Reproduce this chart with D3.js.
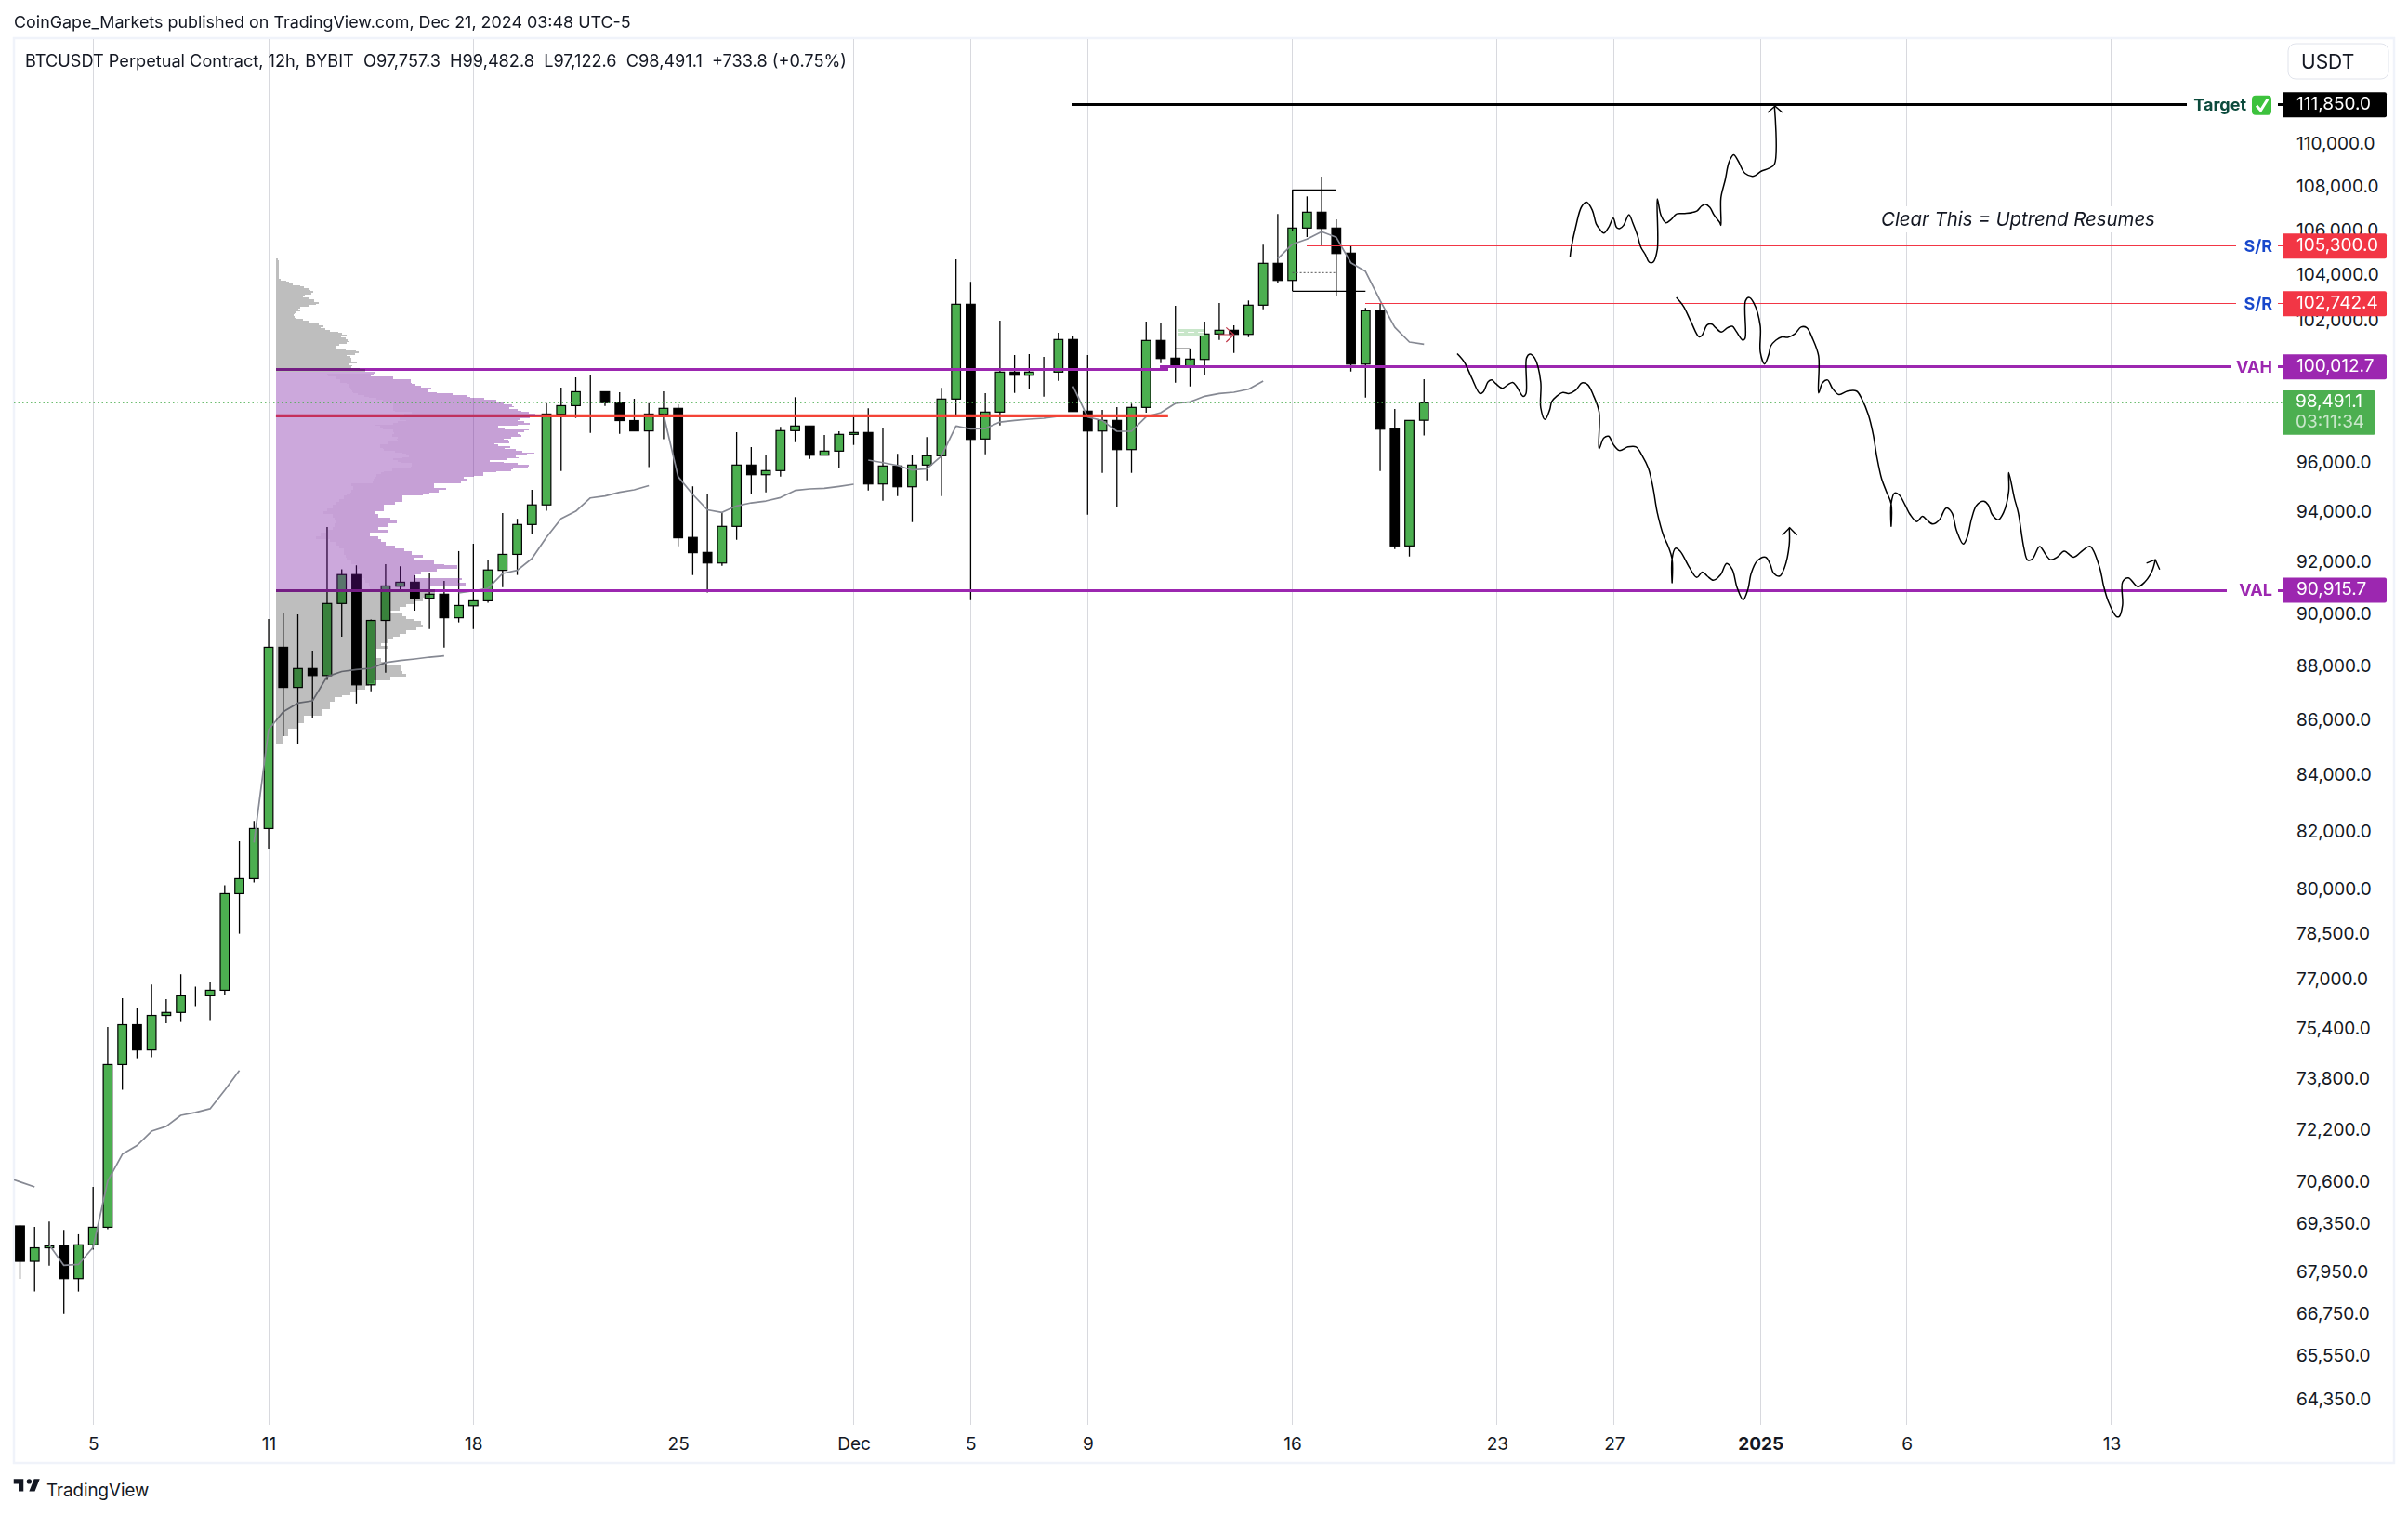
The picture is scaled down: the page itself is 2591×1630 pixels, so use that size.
<!DOCTYPE html>
<html><head><meta charset="utf-8">
<script src="https://cdn.jsdelivr.net/npm/d3@7/dist/d3.min.js"></script>
<style>html,body{margin:0;background:#fff}svg{display:block}text{font-family:Inter,"Noto Sans",sans-serif}</style>
</head><body><svg id="c" width="2591" height="1630"></svg>
<script>
// ---- candles, one per 12h bar (index 0 = 2 Nov 2024 12:00)
const opens=[69304,68266,68660,68718,67762,68748,69265,74246,75521,74713,75821,75918,76459,76459,76641,79870,80379,82120,88727,87219,
87924,87663,90401,91523,87316,89750,91070,91226,90605,90760,89853,90311,90505,91690,92318,93502,94288,98008,98370,98957,
98957,98495,97744,97314,98015,98257,92988,92395,91978,93428,95907,95512,95679,97326,97519,96311,96480,97171,97248,95134,
95869,95021,95907,96288,98648,102722,96979,98101,99789,99655,99789,99789,101185,98140,97310,97751,96541,98296,101145,100385,
100027,100329,101426,101587,101410,102682,104532,103771,106120,106838,106120,104989,100130,102437,97403,92652,97757.3];
const highs=[69331,69276,69433,69188,69059,70468,75446,76380,76068,76827,76350,77166,76763,76897,80153,81678,82388,89804,90053,89982,
88600,93402,91731,91887,89789,91931,91847,91494,91603,91277,92447,92737,92114,93959,93729,94896,98479,99130,99564,99686,
98957,98934,98659,98479,98973,98425,95039,94746,93971,97260,96644,96300,97480,98726,97519,97144,97299,97957,98257,97441,
96365,96338,97056,99118,104710,103705,98894,102003,100517,100557,100437,101479,101318,100517,98191,98308,98452,101963,101882,102653,
100796,101963,102775,101801,102886,105365,106753,107861,107561,108474,106512,105294,102559,102775,98230,97751,99482.8];
const lows=[67754,67389,68137,66750,67389,68603,69207,73452,74447,74479,75566,75608,76123,75671,76480,78513,80245,81422,85424,85129,
86087,87503,89129,86625,87080,87774,90951,90125,89420,88713,89675,89420,90426,91031,91509,93121,94049,95660,97856,97233,
98354,97190,97314,95823,96971,92641,91505,90825,91869,92895,94719,94795,95436,96848,96159,96311,95778,96733,94870,94457,
94644,93598,95285,94644,97969,90530,96349,97542,98906,99063,98749,99418,98124,93896,95588,94195,95588,98074,100170,99339,
99181,99655,101169,100608,101289,102502,103677,103307,105712,105323,103074,99813,98710,95664,92527,92234,97122.6];
const closes=[68266,68660,68718,67762,68748,69265,74246,75521,74713,75821,75918,76459,76459,76641,79870,80379,82120,88727,87219,87924,
87663,90401,91523,87316,89750,91081,91226,90591,90760,89853,90325,90505,91705,92318,93502,94288,98019,98370,98957,98957,
98495,97744,97314,98019,98257,92973,92384,91978,93428,95907,95512,95679,97326,97519,96311,96480,97171,97248,95134,95869,
95021,95907,96288,98648,102722,96963,98101,99789,99655,99789,99789,101185,98124,97310,97751,96541,98296,101145,100369,100027,
100345,101426,101587,101410,102682,104532,103771,106120,106838,106103,104972,100130,102437,97387,92652,97751,98491.1];
// ---- anchored average line: start bar + values
const avgStarts=[-1,2,16,30,44,58,72,86];
const avgValues=[[70768,70620,70468],
[68748,68147,68174,68674,70645,71460,71724,72166,72315,72655,72747,72860,73440,74058],
[81633,85661,86320,86639,86722,87625,87813,87886,87935,88148,88225,88284,88354,88400],
[90811,90890,90987,91567,91690,92150,92999,93736,94034,94569,94648,94798,94896,95066],
[98008,95429,94708,94090,93986,94247,94370,94445,94584,94870,94934,94960,95036,95122],
[96109,96006,95892,95702,95755,96273,97519,97403,97414,97685,97751,97802,97841,97918],
[99181,97891,97751,97299,97299,97907,98074,98464,98530,98765,98883,98934,99063,99406],
[104739,105390,105616,105952,105700,104557,104171,102886,101720,101077,100984]];
// ---- hand-drawn projections (bar index / price)
const path1X=[105.99,106.05,106.38,106.77,107.12,107.51,107.77,108.0,108.29,108.62,108.94,109.17,109.39,109.65,110.01,110.27,110.59,110.82,111.14,111.40,111.66,111.95,111.95,112.21,112.54,112.86,113.28,113.83,114.65,114.97,115.23,115.55,115.81,116.23,116.30,116.30,116.59,116.85,117.17,117.49,117.95,118.54,119.05,119.57,119.96,119.96];
const path1Y=[104833,105152,106195,107086,107297,106923,106308,106082,105889,106147,106567,106147,106098,106244,106729,106357,105793,105264,104913,104579,104579,105152,107444,106680,106357,106486,106761,106777,106891,107118,107200,107053,106729,106357,106244,107493,108313,109138,109487,109188,108626,108494,108725,108857,109055,111772];
const path2X=[98.27,98.76,99.25,99.83,100.06,100.38,100.64,100.90,101.35,101.74,102.07,102.33,102.78,102.97,103.01,103.23,103.56,103.98,103.98,104.27,104.60,104.73,105.08,105.50,105.89,106.38,106.80,107.19,107.58,107.97,107.97,108.29,108.62,108.94,109.36,109.94,110.50,110.92,111.34,111.66,111.95,112.38,112.70,112.96,112.96,112.96,113.19,113.51,114.16,114.65,115.03,115.36,115.78,116.27,116.69,117.08,117.40,117.82,118.15,118.37,118.79,119.35,119.67,119.90,120.32,120.64,120.97,120.97];
const path2Y=[100576,100210,99558,98879,98955,99376,99452,99301,99105,99256,99346,99180,98759,98879,100393,100560,100393,99376,98281,97789,98206,98535,
98774,98925,98879,99030,99331,99256,98804,98102,96579,97020,97094,96755,96506,96652,96652,96286,95776,94979,93975,93052,92629,92138,
91205,92138,92558,92446,91789,91413,91621,91468,91302,91510,91956,91719,91025,90542,90956,91580,92068,92208,91928,91580,91468,91789,
92699,93377];
const path3X=[113.25,113.74,114.22,114.81,115.03,115.36,115.68,115.94,116.33,116.75,117.08,117.34,117.79,117.95,117.98,118.21,118.54,118.99,118.99,119.28,119.57,119.70,120.06,120.48,120.87,121.36,121.78,122.17,122.56,122.98,122.98,123.24,123.59,123.92,124.37,124.96,125.57,125.93,126.38,126.71,126.97,127.29,127.61,127.94,127.94,127.94,128.16,128.49,128.91,129.23,129.69,130.08,130.37,130.79,131.24,131.70,132.09,132.41,132.87,133.13,133.45,133.77,134.26,134.58,134.84,135.26,135.62,135.98,135.98,136.37,136.63,137.02,137.27,137.60,138.09,138.54,138.83,139.29,139.77,140.42,141.07,141.55,142.20,142.46,142.79,143.34,143.53,143.76,143.76,144.15,144.80,145.28,145.77,146.0];
const path3Y=[103018,102628,102006,101296,101388,101821,101851,101697,101512,101697,101759,101543,101158,101235,102862,103018,102784,101774,100652,100134,100545,100897,
101158,101296,101281,101435,101728,101697,101235,100469,98909,99331,99452,99105,98834,98985,98985,98654,97983,97168,96213,95340,94835,94332,
93434,94332,94763,94691,94261,93903,93619,93832,93690,93519,93690,94160,93975,93264,92727,92981,93761,94261,94433,94289,93903,93690,
93975,94835,95601,94547,93975,92558,92096,92138,92629,92278,92110,92208,92446,92208,92488,92629,91789,91094,90474,89899,89899,90336,
91233,91399,91053,91233,91649,92110];
const headX=[[119.5,120.0,120.5],[120.5,121.0,121.5],[145.4,146.0,146.3]];
const headY=[[111483,111789,111483],[93080,93377,93080],[91970,92110,91719]];
// ---- volume profile rows: top price of each row, total volume, up volume (0 = outside value area)
const rowPrice=[104752,104669,103841,103773,103704,103635,103567,103498,103430,103362,103293,103225,103157,103089,103020,102952,102884,102816,102748,102680,102612,102545,
102477,102409,102341,102274,102206,102138,102071,102003,101936,101869,101801,101734,101667,101599,101532,101465,101398,101331,101264,101197,101130,101063,
100996,100930,100796,100730,100663,100596,100530,100463,100397,100331,100238,100172,100092,100026,99960,99907,99814,99735,99669,99603,99538,99472,
99406,99340,99275,99209,99143,99078,99012,98947,98881,98816,98751,98685,98620,98555,98490,98425,98360,98295,98230,98165,98100,98035,
97970,97905,97841,97776,97711,97647,97582,97518,97453,97389,97324,97260,97196,97131,97067,97003,96939,96875,96811,96747,96683,96619,
96555,96491,96427,96364,96300,96236,96172,96109,96045,95982,95918,95855,95792,95728,95665,95602,95539,95475,95412,95349,95286,95223,
95160,95034,94972,94909,94783,94721,94658,94533,94408,94283,94158,94034,93910,93786,93662,93538,93414,93291,93167,93044,92921,92798,
92676,92553,92431,92309,92187,92065,91943,91882,91761,91640,91518,91397,91313,91216,91096,90939,90855,90735,90615,90495,90376,90256,
90137,90018,89899,89815,89720,89602,89483,89365,89247,89129,89011,88894,88776,88659,88542,88424,88308,88191,88074,87958,87842,87725,
87610,87494,87378,87263,87147,87032,86918,86859,86687,86413,86173,85900,85695,85424,85153,85119];
const rowVol=[6,9,15,34,41,54,79,91,107,111,119,114,94,86,107,122,122,137,129,106,79,72,77,64,59,57,59,64,87,106,119,139,152,144,159,174,201,214,227,209,224,231,237,229,204,192,224,259,267,254,229,241,242,244,261,237,246,244,269,289,
321,314,307,377,377,434,434,439,449,469,501,492,492,519,569,614,627,672,711,711,734,762,768,754,779,792,817,837,859,819,786,779,801,819,779,717,739,816,801,779,787,791,759,734,749,754,704,717,757,737,774,794,834,809,774,782,744,691,736,779,816,814,764,759,711,669,669,639,606,619,604,597,
509,509,549,524,494,474,409,409,384,349,349,319,329,369,389,359,329,364,304,329,339,354,384,414,439,474,444,509,544,584,519,469,449,599,589,611,499,
514,514,499,474,449,419,399,369,409,419,444,469,474,454,419,399,379,364,339,364,324,324,324,339,351,404,404,409,419,369,314,299,289,259,239,
213,189,174,149,89,69,39,24,3,0];
const rowUp=[...Array(60).fill(0),
314,164,169,194,194,207,207,229,234,237,239,244,247,249,264,284,299,324,344,364,379,379,379,379,377,384,437,414,409,399,399,419,394,379,319,337,344,379,379,381,374,374,394,389,394,364,359,336,336,344,349,384,409,419,429,409,379,394,404,439,439,434,374,374,347,339,324,324,321,314,317,312,
244,249,249,244,239,229,219,204,194,184,164,154,184,189,194,189,184,169,144,129,174,194,204,219,219,224,229,244,259,264,269,274,279,284,289,299,304,
...Array(45).fill(0)];
// ---- levels
const levelPrice=[111850,105300,102742.4,100012.7,90915.7];
const levelLabel=["Target","S/R","S/R","VAH","VAL"];
const levelFrom=[71.93,87.98,92,77.94,17.5];
const levelTo=[148.15,151.5,151.5,151.2,150.9];
const levelLineColor=["#000000","#f23645","#f23645","#9c27b0","#9c27b0"];
const levelBoxColor=["#000000","#f23645","#f23645","#9c27b0","#9c27b0"];
const levelTextColor=["#0b4a3c","#1848cc","#1848cc","#9c27b0","#9c27b0"];
const levelWidth=[3,1,1,3,3];
const pocPrice=97945, profVAH=99883, profEnd=78.5;
const lastPrice=98491.1;
// ---- axes
const priceTicks=[110000,108000,106000,104000,102000,100000,98000,96000,94000,92000,90000,88000,86000,84000,82000,80000,78500,77000,75400,73800,72200,70600,69350,67950,66750,65550,64350];
const timeTicks=[5,17,31,45,57,65,73,87,101,109,119,129,143];
const timeLabels=["5","11","18","25","Dec","5","9","16","23","27","2025","6","13"];

const x=d3.scaleLinear().domain([0,100]).range([21.5,21.5+1573.7]);
const y=d3.scaleLog().domain([64350,111850]).range([1505.9,112.8]);
const vol=d3.scaleLinear().domain([0,900]).range([0,300]);
const svg=d3.select("#c");
const defs=svg.append("defs");
defs.append("clipPath").attr("id","pane").append("rect").attr("x",15).attr("y",41).attr("width",2441).attr("height",1492);

svg.append("rect").attr("x",15).attr("y",41).attr("width",2561).attr("height",1533).attr("fill","none").attr("stroke","#f0f3fa").attr("stroke-width",2.5);
// grid
svg.append("g").selectAll("line").data(timeTicks).join("line")
  .attr("x1",d=>Math.floor(x(d))+.5).attr("x2",d=>Math.floor(x(d))+.5).attr("y1",42).attr("y2",1533)
  .attr("stroke","#d8d9de").attr("stroke-width",1);
// text knockout
const clearX=2024, clearW=296;
svg.append("rect").attr("x",clearX-4).attr("y",222).attr("width",clearW+8).attr("height",28).attr("fill","#fff");

const pane=svg.append("g").attr("clip-path","url(#pane)");
// candles
const bars=opens.map((o,i)=>({i,o,h:highs[i],l:lows[i],c:closes[i]}));
const cg=pane.append("g");
cg.selectAll("line").data(bars).join("line")
  .attr("x1",d=>x(d.i)).attr("x2",d=>x(d.i)).attr("y1",d=>y(d.h)).attr("y2",d=>y(d.l))
  .attr("stroke","#000").attr("stroke-width",1.3);
cg.selectAll("rect").data(bars).join("rect")
  .attr("x",d=>x(d.i)-4.8).attr("width",9.6)
  .attr("y",d=>y(Math.max(d.o,d.c))).attr("height",d=>Math.abs(y(d.o)-y(d.c)))
  .attr("fill",d=>d.c>=d.o?"#4caf50":"#000").attr("stroke","#000").attr("stroke-width",1.2);
// average line
const ln=d3.line().x(d=>x(d[0])).y(d=>y(d[1]));
pane.append("g").selectAll("path").data(avgValues.map((v,k)=>v.map((p,j)=>[avgStarts[k]+j,p]))).join("path")
  .attr("d",ln).attr("fill","none").attr("stroke","#868993").attr("stroke-width",1.7).attr("stroke-linejoin","round");

// small position-tool marks around the top
const markG=pane.append("g").attr("fill","none").attr("stroke","#000").attr("stroke-width",1.3);
const marks=[[[87,107861],[90,107861]],[[87,107861],[87,106000]],[[87,103295],[92,103295]],[[79,100784],[80,100784]],[[80,100784],[80,100300]]];
markG.selectAll("path").data(marks).join("path").attr("d",ln);
pane.append("path").attr("d",ln([[87,104118],[90,104118]])).attr("fill","none").attr("stroke","#555").attr("stroke-width",1).attr("stroke-dasharray","2 2");
pane.append("rect").attr("x",x(79.15)).attr("width",x(80.93)-x(79.15)).attr("y",y(101640)).attr("height",y(101358)-y(101640)).attr("fill","#c8e6c9");
pane.append("path").attr("d",ln([[79.15,101500],[80.93,101500]])).attr("fill","none").attr("stroke","#fff").attr("stroke-width",1.2).attr("stroke-dasharray","7 4");
pane.append("path").attr("d",ln([[81.98,101398],[83,101398]])+ln([[82.47,101708],[83,101398],[82.47,101077]])).attr("fill","none").attr("stroke","#c0394a").attr("stroke-width",1.2);

// level lines that sit under the profile
pane.append("path").attr("d",ln([[17.5,pocPrice],[profEnd,pocPrice]])).attr("stroke","#f44336").attr("stroke-width",3.4).attr("fill","none");
pane.append("path").attr("d",ln([[17.5,profVAH],[profEnd,profVAH]])).attr("stroke","#9c27b0").attr("stroke-width",3).attr("fill","none").attr("shape-rendering","crispEdges");
pane.append("path").attr("d",ln([[17.5,90915.7],[profEnd,90915.7]])).attr("stroke","#9c27b0").attr("stroke-width",3).attr("fill","none").attr("shape-rendering","crispEdges");

// volume profile
const rows=rowPrice.slice(0,-1).map((p,i)=>({p,next:rowPrice[i+1],v:rowVol[i],u:rowUp[i]}));
const x0=x(17.5);
const pg=pane.append("g").attr("shape-rendering","crispEdges");
pg.append("g").style("mix-blend-mode","multiply").selectAll("rect").data(rows.filter(r=>!r.u)).join("rect")
  .attr("x",x0).attr("width",d=>vol(d.v)).attr("y",d=>y(d.p)).attr("height",d=>y(d.next)-y(d.p)).attr("fill","#bebebe");
pg.append("g").selectAll("rect").data(rows.filter(r=>r.u)).join("rect")
  .attr("x",x0).attr("width",d=>vol(d.u)).attr("y",d=>y(d.p)).attr("height",d=>y(d.next)-y(d.p)).attr("fill","rgba(114,14,158,.36)");
pg.append("g").selectAll("rect").data(rows.filter(r=>r.u)).join("rect")
  .attr("x",d=>x0+vol(d.u)).attr("width",d=>vol(d.v-d.u)).attr("y",d=>y(d.p)).attr("height",d=>y(d.next)-y(d.p)).attr("fill","rgba(117,24,156,.41)");

// right part of the level lines
levelPrice.forEach((p,i)=>{
  const from=i==4?profEnd:levelFrom[i];
  pane.append("path").attr("d",ln([[from,p],[levelTo[i],p]])).attr("stroke",levelLineColor[i]).attr("stroke-width",levelWidth[i]).attr("fill","none").attr("shape-rendering","crispEdges");
});
// projections
const curve=d3.line().x(d=>x(d[0])).y(d=>y(d[1])).curve(d3.curveCatmullRom.alpha(.5));
[[path1X,path1Y],[path2X,path2Y],[path3X,path3Y]].forEach(([a,b])=>{
  pane.append("path").attr("d",curve(a.map((v,j)=>[v,b[j]]))).attr("fill","none").attr("stroke","#000").attr("stroke-width",1.5).attr("stroke-linejoin","round");
});
headX.forEach((a,k)=>pane.append("path").attr("d",ln(a.map((v,j)=>[v,headY[k][j]]))).attr("fill","none").attr("stroke","#000").attr("stroke-width",1.4));
// last price line
svg.append("line").attr("x1",15).attr("x2",2456).attr("y1",y(lastPrice)).attr("y2",y(lastPrice))
  .attr("stroke","#4caf50").attr("stroke-width",1).attr("stroke-dasharray","1.5 3");

// note
svg.append("text").attr("x",clearX).attr("y",243).attr("font-size",20.4).attr("font-style","italic").attr("fill","#131722").text("Clear This = Uptrend Resumes");

// axes
const ya=svg.append("g").attr("transform","translate(2471,-0.5)").call(d3.axisRight(y).tickValues(priceTicks).tickFormat(d3.format(",.1f")).tickSize(0).tickPadding(0));
ya.select(".domain").remove();
ya.selectAll("text").attr("font-size",19).attr("fill","#131722").style("font-family","Inter");
const xa=svg.append("g").attr("transform","translate(0,1533)").call(d3.axisBottom(x).tickValues(timeTicks).tickFormat((d,i)=>timeLabels[i]).tickSize(0).tickPadding(14));
xa.select(".domain").remove();
xa.selectAll("text").attr("font-size",19).attr("fill","#131722").style("font-family","Inter")
  .attr("font-weight",(d,i)=>timeLabels[i]=="2025"?700:400);

// level labels + boxes
const fmt=d3.format(",.1f");
levelPrice.forEach((p,i)=>{
  const yy=y(p);
  const lx=i==0?2417:2445;
  svg.append("text").attr("x",lx).attr("y",yy).attr("dy","0.36em").attr("text-anchor","end").attr("font-size",18).attr("font-weight",700).attr("fill",levelTextColor[i]).text(levelLabel[i]);
  svg.append("line").attr("x1",2451).attr("x2",2456).attr("y1",yy).attr("y2",yy).attr("stroke",levelLineColor[i]).attr("stroke-width",levelWidth[i]==3?3:1).attr("shape-rendering","crispEdges");
  svg.append("path").attr("d",`M2457 ${yy-13.5}H2566a2 2 0 0 1 2 2V${yy+11.5}a2 2 0 0 1 -2 2H2457Z`).attr("fill",levelBoxColor[i]);
  svg.append("text").attr("x",2471).attr("y",yy-1.5).attr("dy","0.36em").attr("font-size",19).attr("fill","#fff").text(fmt(p));
});
// check mark emoji drawn next to Target
const ty=y(111850);
svg.append("rect").attr("x",2423).attr("y",ty-10).attr("width",21).attr("height",21).attr("rx",4).attr("fill","#3dc23d");
svg.append("path").attr("d",`M2428 ${ty+1}L2432.5 ${ty+6}L2440 ${ty-6}`).attr("fill","none").attr("stroke","#fff").attr("stroke-width",3);
// last price box
svg.append("path").attr("d",`M2457 420H2554a2 2 0 0 1 2 2V465.7a2 2 0 0 1 -2 2H2457Z`).attr("fill","#4caf50");
svg.append("text").attr("x",2470).attr("y",431).attr("dy","0.36em").attr("font-size",19).attr("fill","#fff").text(fmt(lastPrice));
svg.append("text").attr("x",2470).attr("y",452.7).attr("dy","0.36em").attr("font-size",19).attr("fill","#fff").attr("fill-opacity",.7).text("03:11:34");
// currency button
svg.append("rect").attr("x",2462).attr("y",47).attr("width",108).attr("height",38).attr("rx",8).attr("fill","#fff").attr("stroke","#e0e3eb");
svg.append("text").attr("x",2476).attr("y",66).attr("dy","0.36em").attr("font-size",21).attr("fill","#131722").text("USDT");

// header
svg.append("text").attr("x",15).attr("y",24).attr("dy","0.36em").attr("font-size",17.9).attr("fill","#131722").text("CoinGape_Markets published on TradingView.com, Dec 21, 2024 03:48 UTC-5");
svg.append("text").attr("x",27).attr("y",65).attr("dy","0.36em").attr("font-size",18.17).attr("fill","#131722").style("white-space","pre").text("BTCUSDT Perpetual Contract, 12h, BYBIT  O97,757.3  H99,482.8  L97,122.6  C98,491.1  +733.8 (+0.75%)");
// logo
svg.append("path").attr("transform","translate(13,1586) scale(.875)").attr("fill","#131722").attr("d","M14 6H2v6h6v9h6V6Zm14 15h-7l6-15h7l-6 15Zm-7-9a3 3 0 1 0 0-6 3 3 0 0 0 0 6Z");
svg.append("text").attr("x",50).attr("y",1603).attr("dy","0.36em").attr("font-size",18.7).attr("font-weight",400).attr("fill","#131722").text("TradingView");
</script></body></html>
